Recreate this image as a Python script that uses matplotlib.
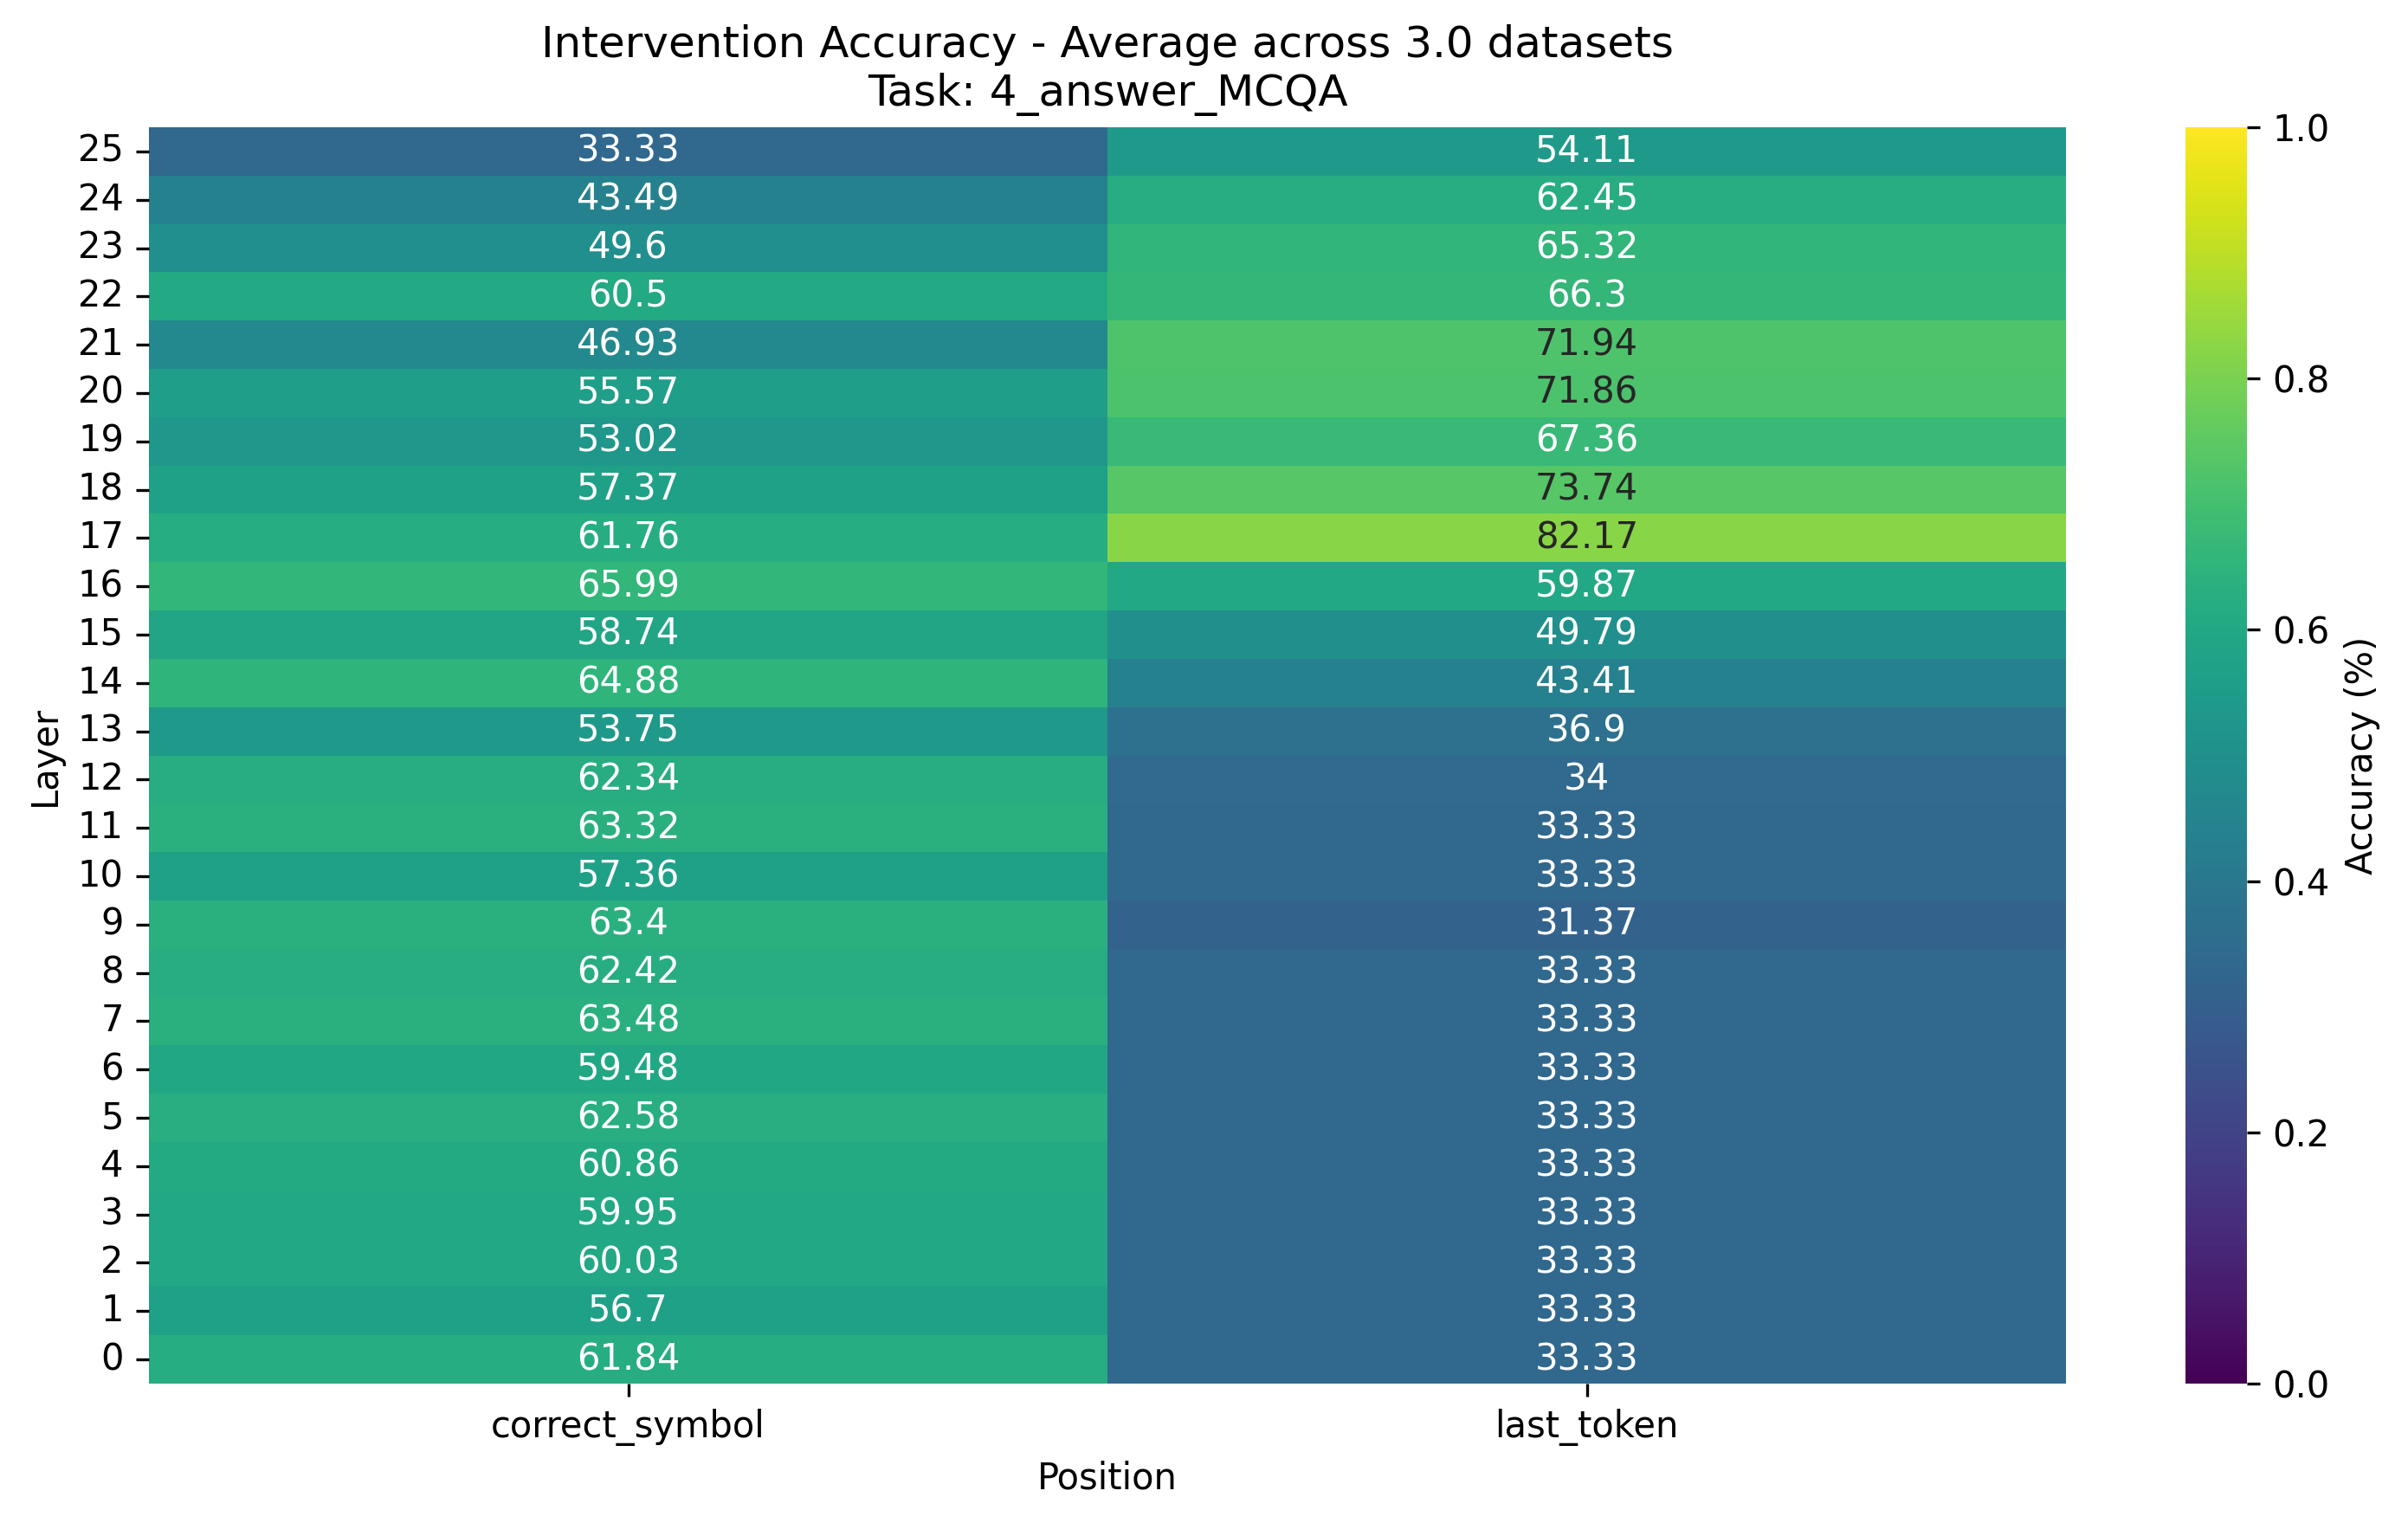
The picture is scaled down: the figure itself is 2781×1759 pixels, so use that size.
import numpy as np
import matplotlib
matplotlib.use("Agg")
import matplotlib.pyplot as plt
import seaborn as sns

layers = list(range(26))
positions = ["correct_symbol", "last_token"]

# accuracy in %, indexed by layer 0..25
correct_symbol = [61.84, 56.7, 60.03, 59.95, 60.86, 62.58, 59.48, 63.48, 62.42, 63.4,
                  57.36, 63.32, 62.34, 53.75, 64.88, 58.74, 65.99, 61.76, 57.37, 53.02,
                  55.57, 46.93, 60.5, 49.6, 43.49, 33.33]
last_token = [33.33, 33.33, 33.33, 33.33, 33.33, 33.33, 33.33, 33.33, 33.33, 31.37,
              33.33, 33.33, 34, 36.9, 43.41, 49.79, 59.87, 82.17, 73.74, 67.36,
              71.86, 71.94, 66.3, 65.32, 62.45, 54.11]

def fmt(v):
    s = ("%.2f" % v).rstrip("0").rstrip(".")
    return s

vals = np.array([correct_symbol, last_token]).T[::-1]   # layer 25 on top
annot = np.array([[fmt(v) for v in row] for row in vals])

fig = plt.figure(figsize=(2781 / 300, 1759 / 300), dpi=300)
ax = fig.add_axes([172 / 2781, 1 - 1598 / 1759, (2386 - 172) / 2781, (1598 - 147) / 1759])
cax = fig.add_axes([2524 / 2781, 1 - 1598 / 1759, (2595 - 2524) / 2781, (1598 - 147) / 1759])

sns.heatmap(vals / 100, annot=annot, fmt="", cmap="viridis", vmin=0, vmax=1,
            xticklabels=positions, yticklabels=layers[::-1], ax=ax, cbar_ax=cax,
            cbar_kws={"label": "Accuracy (%)"})
ax.set_yticklabels(layers[::-1], rotation=0)
ax.set_xlabel("Position")
ax.set_ylabel("Layer")
ax.set_title("Intervention Accuracy - Average across 3.0 datasets\nTask: 4_answer_MCQA")

fig.savefig("out.png", dpi=300)
